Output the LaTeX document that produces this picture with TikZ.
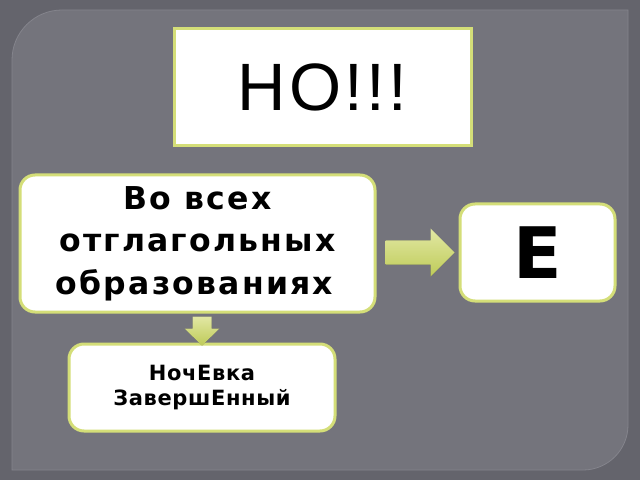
\documentclass[tikz,border=0pt]{standalone}
\usepackage{fontspec}
\setmainfont{DejaVu Sans}
\newfontfamily\arialfont[LetterSpace=5]{Liberation Sans}
\usetikzlibrary{calc}
\definecolor{outerbg}{RGB}{100,100,108}
\definecolor{innerbg}{RGB}{116,116,124}
\definecolor{paneledge}{RGB}{132,132,140}
\definecolor{boxedge}{RGB}{212,222,120}
\definecolor{arrowtop}{RGB}{226,232,164}
\definecolor{arrowbot}{RGB}{190,203,88}
\definecolor{arrowshadow}{RGB}{60,60,66}
\tikzset{
  plainbox/.style={draw=boxedge, line width=3pt, fill=white, inner sep=0pt, align=center},
  roundbox/.style={plainbox, rounded corners=15pt},
  blockarrow/.style={top color=arrowtop, bottom color=arrowbot},
  arrowshade/.style={fill=arrowshadow, opacity=0.6}
}
\begin{document}
\begin{tikzpicture}[x=1pt,y=1pt]
\useasboundingbox (0,0) rectangle (640,480);
% background
\fill[outerbg] (0,0) rectangle (640,480);
\fill[innerbg, draw=paneledge, line width=0.8pt] (12,10) -- (12,420) arc[start angle=180, end angle=90, radius=50pt] -- (628,470) -- (628,55) arc[start angle=0, end angle=-90, radius=45pt] -- cycle;
% boxes
\node[plainbox, minimum width=297pt, minimum height=117pt,
  font=\arialfont\fontsize{67}{67}\selectfont] (T) at (322.5,392.5) {НО!!!};
\node[roundbox, minimum width=355pt, minimum height=137pt,
  font=\bfseries\addfontfeature{LetterSpace=7}\fontsize{31.5}{42.5}\selectfont] (L) at (197.5,236.5)
  {Во всех\\отглагольных\\образованиях\hspace*{6pt}};
\node[roundbox, minimum width=155pt, minimum height=97pt,
  font=\bfseries\fontsize{71}{71}\selectfont] (E) at (537.5,227.5) {Е};
\node[roundbox, minimum width=266pt, minimum height=87pt,
  font=\bfseries\addfontfeature{LetterSpace=3}\fontsize{21}{25}\selectfont] (B) at (202,92.5)
  {НочЕвка\\ЗавершЕнный};
% right block arrow
\coordinate (ra1) at ([xshift=9pt]L.east |- E.west);
\coordinate (ra2) at ([xshift=-4pt]E.west);
\fill[arrowshade, shift={(1.5pt,-2pt)}] ($(ra1)+(0,12)$) -- ($(ra2)+(-24,12)$) -- ($(ra2)+(-24,24)$) -- (ra2) -- ($(ra2)+(-24,-24)$) -- ($(ra2)+(-24,-12)$) -- ($(ra1)+(0,-12)$) -- cycle;
\shade[blockarrow] ($(ra1)+(0,12)$) -- ($(ra2)+(-24,12)$) -- ($(ra2)+(-24,24)$) -- (ra2) -- ($(ra2)+(-24,-24)$) -- ($(ra2)+(-24,-12)$) -- ($(ra1)+(0,-12)$) -- cycle;
% down block arrow
\coordinate (da1) at ([yshift=-3pt]L.south -| B.north);
\coordinate (da2) at ([yshift=-3pt]B.north);
\fill[arrowshade, shift={(1.5pt,-1.5pt)}] ($(da1)+(-9.5,0)$) -- ($(da2)+(-9.5,17)$) -- ($(da2)+(-17.5,17)$) -- (da2) -- ($(da2)+(17.5,17)$) -- ($(da2)+(9.5,17)$) -- ($(da1)+(9.5,0)$) -- cycle;
\shade[blockarrow] ($(da1)+(-9.5,0)$) -- ($(da2)+(-9.5,17)$) -- ($(da2)+(-17.5,17)$) -- (da2) -- ($(da2)+(17.5,17)$) -- ($(da2)+(9.5,17)$) -- ($(da1)+(9.5,0)$) -- cycle;
\end{tikzpicture}
\end{document}
